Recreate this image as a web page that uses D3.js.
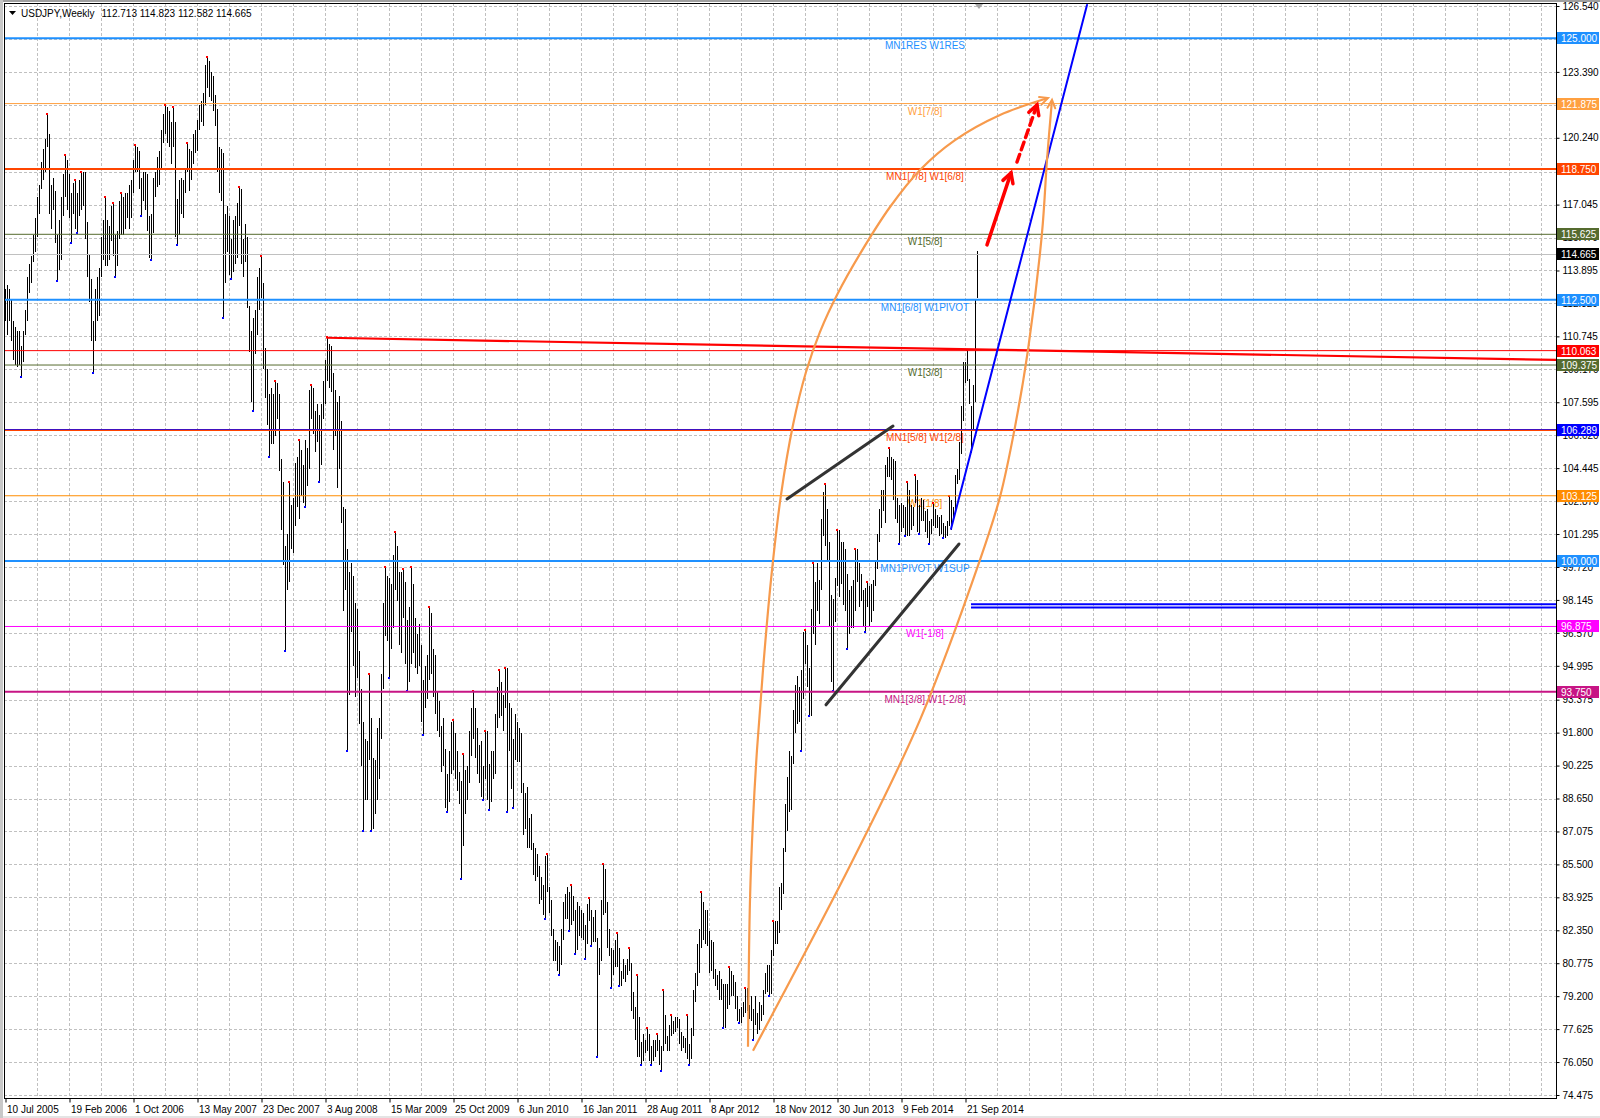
<!DOCTYPE html>
<html>
<head>
<meta charset="utf-8">
<script src="https://cdn.jsdelivr.net/npm/d3@7"></script>
<style>
  html, body { margin: 0; padding: 0; background: #fff; }
  svg { display: block; font-family: Tahoma, "Liberation Sans", Arial, sans-serif; }
</style>
</head>
<body>
<svg id="chart" width="1600" height="1118"></svg>
<script>
// ---- data ----
const symbolTitle = 'USDJPY,Weekly';
const lastOHLC = ['112.713', '114.823', '112.582', '114.665'];

// weekly [high, low], one bar per week starting 10 Jul 2005
const weeklyRanges = [
  // 2005
  [113.0,111.5],[113.2,110.8],[113.0,111.5],[112.5,110.5],[111.5,109.6],[111.2,109.4],[111.0,109.3],[111.0,109.4],[110.3,108.8],[111.0,109.5],
  [112.0,110.8],[113.6,111.5],[114.2,112.8],[114.6,113.3],[115.6,114.3],[116.4,114.8],[117.4,115.5],[118.0,116.6],[119.1,117.8],[119.7,118.2],
  [120.2,118.6],[121.4,119.8],[120.4,116.6],[118.0,115.9],[118.3,116.8],
  // 2006
  [117.7,115.2],[115.6,113.4],[116.3,113.9],[117.4,114.4],[118.5,116.5],[119.4,117.4],[119.2,116.8],[118.5,116.4],[117.6,115.2],[118.1,116.6],
  [118.2,115.9],[117.6,115.7],[118.2,116.5],[118.6,116.8],[118.6,117.0],[118.6,115.4],[116.2,113.6],[114.7,112.4],[113.5,110.5],[111.5,109.0],
  [113.0,110.5],[113.6,111.5],[114.0,111.7],[115.5,113.6],[116.3,114.4],[117.4,114.1],[116.3,114.1],[116.0,114.4],[117.0,115.3],[117.1,114.6],
  [115.6,113.6],[115.8,114.1],[117.2,115.4],[117.6,115.6],[117.4,115.6],[117.6,115.9],[117.6,116.4],[118.0,115.9],[118.2,116.4],[119.2,117.6],
  [119.9,118.6],[119.8,118.6],[119.6,117.8],[118.3,116.5],[118.6,117.2],[118.6,116.8],[118.5,115.8],[116.5,114.5],[116.6,114.4],[118.3,115.7],
  [118.6,117.4],[119.3,117.9],[119.6,118.0],
  // 2007
  [120.6,118.8],[121.4,120.0],[121.8,120.4],[121.7,120.0],[121.5,119.8],[121.0,119.0],[121.7,119.8],[121.0,115.5],[117.3,115.1],[118.2,115.6],
  [118.3,116.6],[118.2,116.4],[118.8,117.6],[120.0,118.6],[119.7,117.7],[119.6,118.2],[120.4,119.0],[120.6,119.5],[121.1,119.6],[121.8,120.6],
  [122.0,121.0],[122.4,120.8],[123.7,121.8],[124.1,122.6],[123.9,122.2],[123.4,122.0],[123.2,121.5],[122.3,120.8],[121.6,118.6],[119.8,117.6],
  [119.7,117.2],[119.5,111.6],[116.6,113.3],[117.0,114.8],[116.5,113.7],[115.4,113.5],[116.3,113.8],[116.5,114.2],[117.1,114.5],[117.9,116.0],
  [117.8,114.2],[115.4,113.6],[116.1,114.3],[115.5,112.1],[112.2,110.0],[111.0,107.6],[111.6,107.2],[112.0,109.9],[113.6,110.8],[114.0,112.0],
  [114.6,112.6],[113.3,109.2],
  // 2008
  [110.2,107.8],[109.2,106.5],[108.0,105.0],[108.3,105.6],[108.0,105.6],[108.6,106.0],[108.5,106.8],[108.0,104.3],[104.9,101.5],[103.8,99.8],
  [100.7,95.7],[101.3,98.6],[103.8,99.0],[102.7,100.6],[103.0,100.4],[104.7,101.7],[105.0,102.6],[105.8,102.0],[105.3,103.1],[104.6,102.8],
  [105.8,102.6],[105.4,103.6],[108.2,104.4],[108.4,106.8],[108.3,106.1],[107.2,105.2],[107.5,105.7],[107.0,103.8],[107.5,104.6],[108.6,106.8],
  [109.6,107.5],[110.7,108.6],[110.4,108.3],[110.3,108.1],[109.0,105.3],[108.2,106.0],[107.6,103.5],[107.9,104.4],[106.7,101.8],[102.6,97.6],
  [102.5,98.6],[100.6,90.9],[99.5,93.6],[99.9,96.6],[99.3,95.0],[98.0,93.5],[97.7,94.4],[95.7,92.2],[93.9,90.2],[92.3,87.1],
  [91.5,88.6],[91.4,88.6],
  // 2009
  [94.6,90.5],[92.5,87.1],[90.6,87.2],[90.5,87.9],[92.0,88.6],[92.5,89.6],[94.6,91.5],[98.0,93.9],[99.7,96.4],[99.3,96.2],
  [99.2,94.4],[98.9,95.8],[100.3,96.8],[101.4,98.6],[100.7,98.1],[99.5,96.0],[99.5,95.6],[99.6,97.3],[99.0,95.1],[97.2,93.8],
  [97.8,94.2],[99.7,95.1],[98.9,95.6],[97.3,94.9],[96.5,94.6],[97.0,95.0],[96.0,92.3],[94.3,91.7],[95.0,93.0],[95.5,93.4],
  [97.8,94.3],[97.5,94.6],[95.8,93.5],[95.5,92.7],[93.8,91.9],[93.3,91.6],[92.1,89.9],[92.5,90.2],[91.0,88.2],[89.8,88.0],
  [90.9,88.5],[92.3,89.8],[92.4,90.0],[91.8,89.6],[90.9,89.0],[89.9,88.4],[89.5,84.8],[90.8,86.4],[90.0,87.9],[90.2,88.6],
  [91.9,89.4],[93.0,90.7],
  // 2010
  [93.8,91.5],[93.0,90.6],[92.0,89.8],[91.2,89.4],[91.4,88.7],[90.2,88.6],[91.9,89.6],[91.9,88.6],[90.3,88.1],[90.9,88.5],
  [90.9,89.6],[92.7,89.8],[94.0,92.0],[94.8,92.5],[94.2,92.6],[93.6,91.9],[94.9,93.0],[94.9,88.0],[93.2,90.9],[93.0,89.1],
  [91.5,88.2],[92.7,90.5],[92.3,90.4],[92.0,90.4],[91.8,88.9],[89.4,86.9],[88.9,87.2],[89.2,86.3],[87.7,86.3],[87.9,86.2],
  [86.5,85.0],[86.3,84.7],[86.0,84.9],[85.4,83.6],[84.9,83.8],[84.5,83.1],[85.9,82.9],[86.0,84.2],[84.4,83.2],[83.8,82.1],
  [82.4,80.9],[81.9,80.9],[81.8,80.4],[81.6,80.2],[82.4,80.7],[83.7,81.9],[84.1,82.9],[84.4,82.9],[84.2,82.3],[84.5,82.6],
  [84.0,82.8],[83.3,81.2],
  // 2011
  [83.7,81.4],[83.5,82.1],[83.3,82.0],[83.2,81.9],[82.6,81.0],[83.6,81.7],[83.9,82.8],[83.3,81.6],[83.0,81.8],[83.3,81.8],
  [82.0,76.3],[81.5,80.2],[83.8,80.9],[85.5,83.1],[85.3,83.2],[83.7,81.5],[82.4,81.1],[81.5,79.6],[81.4,80.2],[81.9,80.6],
  [82.2,80.6],[81.5,79.7],[80.4,79.7],[81.0,80.0],[80.7,79.9],[81.0,80.2],[81.5,80.4],[80.8,78.5],[79.4,78.1],[78.7,77.1],
  [80.2,76.3],[78.2,76.3],[77.0,75.9],[77.4,76.1],[77.1,76.5],[77.7,76.6],[77.4,76.1],[76.8,75.9],[77.1,76.1],[77.1,76.3],
  [77.4,76.6],[77.1,75.9],[76.8,75.6],[79.5,76.6],[78.3,76.9],[77.3,76.6],[77.8,76.6],[78.3,77.3],[78.0,77.4],[78.2,77.5],
  [78.2,77.7],[78.1,76.9],
  // 2012
  [77.5,76.6],[77.3,76.7],[77.2,76.5],[78.3,76.2],[76.9,75.9],[77.7,76.2],[79.5,77.3],[80.3,78.9],[81.7,79.7],[82.4,80.3],
  [84.2,81.5],[83.7,81.9],[83.3,81.7],[83.3,81.6],[82.3,80.3],[81.9,80.4],[81.8,80.0],[80.5,79.7],[80.2,79.5],[80.4,79.0],
  [80.0,79.0],[79.8,77.7],[79.8,77.7],[79.8,78.6],[80.6,78.8],[80.4,79.2],[80.2,79.2],[79.9,78.6],[79.2,78.0],[78.6,77.9],
  [78.7,77.9],[78.9,78.2],[79.6,78.4],[79.6,78.5],[78.8,78.1],[79.2,78.0],[78.6,77.1],[79.2,77.8],[78.4,77.4],[78.9,77.6],
  [78.8,78.0],[79.5,78.3],[80.3,79.3],[80.7,79.4],[80.7,79.2],[81.4,79.3],[82.8,81.1],[82.8,81.7],[82.8,81.7],[84.4,82.2],
  [84.6,83.3],[86.3,84.1],[88.4,86.1],
  // 2013
  [89.7,87.1],[90.9,88.0],[90.7,88.1],[92.9,90.3],[94.1,91.8],[94.5,92.2],[94.0,92.3],[94.8,90.9],[96.6,93.4],[96.7,95.1],
  [96.0,94.0],[94.9,92.6],[97.7,92.6],[99.9,96.5],[99.0,96.0],[99.9,97.6],[99.1,97.0],[102.0,98.6],[103.3,101.2],[103.7,100.7],
  [102.5,100.0],[100.9,96.9],[98.4,94.2],[98.2,93.8],[99.2,97.1],[101.5,98.8],[101.5,98.3],[100.9,98.9],[100.9,97.9],[100.6,97.6],
  [99.4,95.8],[98.6,96.5],[98.8,96.8],[99.1,96.8],[100.6,97.6],[100.6,99.0],[99.9,97.8],[99.4,98.1],[98.6,96.9],[98.7,96.6],
  [99.0,97.8],[98.8,96.9],[98.9,97.1],[99.1,97.6],[100.0,98.8],[101.3,99.6],[102.5,100.9],[103.4,101.6],[103.4,102.4],[104.6,101.8],
  [105.0,104.0],[105.4,104.0],
  // 2014
  [105.0,103.9],[104.9,102.9],[104.8,102.0],[103.0,101.8],[102.7,100.8],[102.8,101.4],[102.7,101.6],[102.6,101.2],[103.8,101.2],[103.4,101.2],
  [102.7,101.5],[102.6,101.7],[104.1,102.8],[103.9,101.4],[102.7,101.3],[103.0,101.9],[102.9,101.9],[102.4,101.4],[102.5,101.1],[101.9,100.8],
  [102.0,101.3],[102.8,101.7],[102.5,101.6],[102.2,101.6],[102.1,101.2],[102.2,101.3],[101.8,101.1],[101.7,101.1],[101.9,101.2],[103.1,101.7],
  [102.9,101.5],[102.6,101.9],[104.1,102.3],[104.4,103.7],[105.7,103.9],[107.4,105.1],[109.5,106.7],[109.5,108.5],[110.1,108.6],[108.7,107.5],
  [107.4,105.2],[108.4,106.3],[112.5,107.6],[114.823,112.582]
];

// one date label every 32 weekly bars
const dateLabels = ['10 Jul 2005', '19 Feb 2006', '1 Oct 2006', '13 May 2007', '23 Dec 2007', '3 Aug 2008',
  '15 Mar 2009', '25 Oct 2009', '6 Jun 2010', '16 Jan 2011', '28 Aug 2011', '8 Apr 2012',
  '18 Nov 2012', '30 Jun 2013', '9 Feb 2014', '21 Sep 2014'];

const priceTickLabels = ['126.540', '124.965', '123.390', '121.815', '120.240', '118.620', '117.045', '115.470',
  '113.895', '112.320', '110.745', '109.170', '107.595', '106.020', '104.445', '102.870', '101.295', '99.720',
  '98.145', '96.570', '94.995', '93.375', '91.800', '90.225', '88.650', '87.075', '85.500', '83.925', '82.350',
  '80.775', '79.200', '77.625', '76.050', '74.475'];

// horizontal levels (Murrey / pivot) and their captions
const levelPrices = [125.000, 121.875, 118.750, 115.625, 112.500, 110.063, 109.375, 106.289, 106.250, 103.125, 100.000, 96.875, 93.750];
const levelNames = ['MN1RES W1RES', 'W1[7/8]', 'MN1[7/8] W1[6/8]', 'W1[5/8]', 'MN1[6/8] W1PIVOT', '', 'W1[3/8]', '',
  'MN1[5/8] W1[2/8]', 'W1[1/8]', 'MN1PIVOT W1SUP', 'W1[-1/8]', 'MN1[3/8] W1[-2/8]'];
const levelTagged = [true, true, true, true, true, true, true, true, false, true, true, true, true];

// hand drawn objects, as [bar index, price]
const channelUpper = [[391, 102.97], [444, 106.46]];
const channelLower = [[410.5, 93.13], [477, 100.82]];
const trendBlue = [[473, 101.54], [541, 126.59]];
const resistanceRed = [[161, 110.68], [775.5, 109.62]];
const supportPair = [97.94, 97.78];
const supportStart = 483;
const arcUpper = [[371.5, 76.78], [372.5, 83.81], [374, 87.63], [376, 90.98], [379, 94.80], [383, 99.10],
  [388, 103.17], [394, 106.51], [400.5, 109.04], [407.5, 110.96], [416.5, 112.82], [427.5, 114.69],
  [442.5, 116.93], [457.5, 118.70], [475, 120.13], [497.5, 121.33], [521.5, 122.14]];
const arcLower = [[374, 76.59], [424, 85.72], [457.5, 92.41], [487.5, 100.06], [497.5, 103.07], [505, 106.42],
  [511.5, 110.10], [518.5, 115.69], [521, 119.18], [523.5, 122.05]];
const arrowSolid = [[491, 115.12], [503, 118.56]];
const arrowDashed = [[506, 119.08], [516, 121.81]];
const chartShiftBar = 487;

// ---- layout ----
const W = 1600, H = 1118;
const plot = { left: 4, top: 3, right: 1556, bottom: 1098 };

const svg = d3.select('#chart');

const x = d3.scaleLinear().domain([0, 775.5]).range([5, 1556]);
const y = d3.scaleLinear().domain([74.475, 126.54]).range([1095, 6]);
const px = v => Math.round(v) + 0.5;

// frame
svg.append('rect').attr('x', 0).attr('y', 0).attr('width', W).attr('height', H).attr('fill', '#fff');
svg.append('rect').attr('x', 0).attr('y', 1116).attr('width', W).attr('height', 2).attr('fill', '#e4e4e4');
svg.append('rect').attr('x', 0).attr('y', 0).attr('width', W).attr('height', 2).attr('fill', '#a0a0a0');
svg.append('rect').attr('x', 0).attr('y', 0).attr('width', 3).attr('height', H).attr('fill', '#c8c8c8');

svg.append('defs').append('clipPath').attr('id', 'plotClip')
  .append('rect')
  .attr('x', plot.left).attr('y', plot.top)
  .attr('width', plot.right - plot.left).attr('height', plot.bottom - plot.top);

const g = svg.append('g').attr('clip-path', 'url(#plotClip)');

// grid
const tickValues = priceTickLabels.map(Number);
g.append('g').selectAll('line').data(tickValues).join('line')
  .attr('x1', plot.left).attr('x2', plot.right)
  .attr('y1', d => px(y(d))).attr('y2', d => px(y(d)))
  .attr('stroke', '#c0c0c0').attr('stroke-dasharray', '3,2');

const gridBars = d3.range(16, 776, 16);
g.append('g').selectAll('line').data(gridBars).join('line')
  .attr('x1', d => px(x(d))).attr('x2', d => px(x(d)))
  .attr('y1', plot.top).attr('y2', plot.bottom)
  .attr('stroke', '#c0c0c0').attr('stroke-dasharray', '3,2');

// level styles
const levelColors = ['#1E90FF', '#FFA040', '#FF4500', '#556B2F', '#1E90FF', '#FF0000', '#556B2F', '#0000FF',
  '#FF4500', '#FF8C00', '#1E90FF', '#FF00FF', '#C71585'];
const levelWidths = [2, 1, 2, 1, 2, 1, 1, 1.3, 1.3, 1, 2, 1, 2];
const levels = levelPrices.map((p, k) => ({ p, name: levelNames[k], color: levelColors[k], w: levelWidths[k], tag: levelTagged[k] }));

// captions sit under the bars
g.append('g').selectAll('text').data(levels.filter(d => d.name)).join('text')
  .attr('x', 925).attr('y', d => y(d.p) + 11)
  .attr('text-anchor', 'middle')
  .attr('font-size', 10)
  .attr('fill', d => d.color)
  .text(d => d.name);

// weekly bars
const bars = weeklyRanges.map((r, i) => ({ i, high: r[0], low: r[1] }));
g.append('g').selectAll('line').data(bars).join('line')
  .attr('x1', d => px(x(d.i))).attr('x2', d => px(x(d.i)))
  .attr('y1', d => Math.round(y(d.high))).attr('y2', d => Math.max(Math.round(y(d.low)), Math.round(y(d.high)) + 1))
  .attr('stroke', '#000').attr('stroke-width', 1);

// fractal markers
const n = bars.length;
const fractUp = d3.range(2, n - 2).filter(i => bars[i].high > bars[i - 1].high && bars[i].high > bars[i - 2].high &&
  bars[i].high >= bars[i + 1].high && bars[i].high >= bars[i + 2].high);
const fractDown = d3.range(2, n - 2).filter(i => bars[i].low < bars[i - 1].low && bars[i].low < bars[i - 2].low &&
  bars[i].low <= bars[i + 1].low && bars[i].low <= bars[i + 2].low);
g.append('g').selectAll('rect').data(fractUp).join('rect')
  .attr('x', i => Math.round(x(i)) - 1).attr('y', i => Math.round(y(bars[i].high)) - 1)
  .attr('width', 2).attr('height', 2).attr('fill', '#FF0000');
g.append('g').selectAll('rect').data(fractDown).join('rect')
  .attr('x', i => Math.round(x(i)) - 1).attr('y', i => Math.round(y(bars[i].low)) - 1)
  .attr('width', 2).attr('height', 2).attr('fill', '#0000FF');

// current price line
const lastClose = +lastOHLC[3];
g.append('line')
  .attr('x1', plot.left).attr('x2', plot.right)
  .attr('y1', px(y(lastClose))).attr('y2', px(y(lastClose)))
  .attr('stroke', '#c0c0c0');

// level lines
g.append('g').selectAll('line').data(levels).join('line')
  .attr('x1', plot.left).attr('x2', plot.right)
  .attr('y1', d => y(d.p)).attr('y2', d => y(d.p))
  .attr('stroke', d => d.color).attr('stroke-width', d => d.w);

// straight objects
const seg = (pts, color, w, dash) => g.append('line')
  .attr('x1', x(pts[0][0])).attr('y1', y(pts[0][1]))
  .attr('x2', x(pts[1][0])).attr('y2', y(pts[1][1]))
  .attr('stroke', color).attr('stroke-width', w)
  .attr('stroke-dasharray', dash || null)
  .attr('stroke-linecap', 'round');

seg(resistanceRed, '#FF0000', 2.2);

// double support lines
g.append('g').selectAll('line').data(supportPair).join('line')
  .attr('x1', x(supportStart)).attr('x2', plot.right)
  .attr('y1', d => y(d)).attr('y2', d => y(d))
  .attr('stroke', '#0000FF').attr('stroke-width', 2);

// channel
seg(channelUpper, '#333333', 3);
seg(channelLower, '#333333', 3);

// blue trend
seg(trendBlue, '#0000FF', 2);

// orange arcs with arrow heads
const curve = d3.line().x(d => x(d[0])).y(d => y(d[1])).curve(d3.curveCatmullRom.alpha(0.5));
function head(pts, color, len, w, spread) {
  const a = pts[pts.length - 2], b = pts[pts.length - 1];
  const x1 = x(a[0]), y1 = y(a[1]), x2 = x(b[0]), y2 = y(b[1]);
  const ang = Math.atan2(y2 - y1, x2 - x1);
  const wing = s => [x2 - len * Math.cos(ang + s), y2 - len * Math.sin(ang + s)];
  const p1 = wing(spread), p2 = wing(-spread);
  g.append('path')
    .attr('d', `M${p1[0]},${p1[1]}L${x2},${y2}L${p2[0]},${p2[1]}`)
    .attr('fill', 'none').attr('stroke', color).attr('stroke-width', w)
    .attr('stroke-linejoin', 'miter').attr('stroke-linecap', 'round');
}
[arcUpper, arcLower].forEach(arc => {
  g.append('path').attr('d', curve(arc))
    .attr('fill', 'none').attr('stroke', '#F79A4C').attr('stroke-width', 2.2);
  head(arc, '#F79A4C', 9, 2, 0.45);
});

// red arrows
seg(arrowSolid, '#FF0000', 3.5);
head(arrowSolid, '#FF0000', 11, 3.5, 0.5);
seg(arrowDashed, '#FF0000', 3.5, '8,5');
head(arrowDashed, '#FF0000', 11, 3.5, 0.5);

// chart shift marker
const sx = x(chartShiftBar);
svg.append('path').attr('d', `M${sx - 4},4L${sx + 4},4L${sx},9Z`).attr('fill', '#a8a8a8');

// plot border
svg.append('rect')
  .attr('x', plot.left + 0.5).attr('y', plot.top + 0.5)
  .attr('width', plot.right - plot.left).attr('height', plot.bottom - plot.top)
  .attr('fill', 'none').attr('stroke', '#000');

// price axis
const yAxis = d3.axisRight(y).tickValues(tickValues).tickSize(3).tickPadding(3)
  .tickFormat((d, k) => priceTickLabels[k]);
const ya = svg.append('g').attr('transform', `translate(${plot.right + 0.5},0)`).call(yAxis);
ya.select('.domain').remove();
ya.selectAll('text').attr('font-size', 10).attr('font-family', 'Tahoma, "Liberation Sans", Arial, sans-serif').attr('fill', '#000');
ya.selectAll('line').attr('stroke', '#000');

// time axis
const dateBars = dateLabels.map((_, k) => k * 32);
const xAxis = d3.axisBottom(x).tickValues(dateBars).tickSize(4).tickPadding(3)
  .tickFormat((d, k) => dateLabels[k]);
const xa = svg.append('g').attr('transform', `translate(0.5,${plot.bottom + 0.5})`).call(xAxis);
xa.select('.domain').remove();
xa.selectAll('text').attr('font-size', 10).attr('font-family', 'Tahoma, "Liberation Sans", Arial, sans-serif')
  .attr('fill', '#000').attr('text-anchor', 'start').attr('dx', 1);
xa.selectAll('line').attr('stroke', '#000');

// price tags on the axis
const tags = levels.filter(d => d.tag).map(d => ({ p: d.p, color: d.color, text: d.p.toFixed(3) }));
tags.push({ p: lastClose, color: '#000000', text: lastOHLC[3] });
const tg = svg.append('g').selectAll('g').data(tags).join('g')
  .attr('transform', d => `translate(1557,${Math.round(y(d.p)) - 6})`);
tg.append('rect').attr('width', 42).attr('height', 12).attr('fill', d => d.color);
tg.append('text').attr('x', 4).attr('y', 10).attr('font-size', 10).attr('fill', '#fff').text(d => d.text);

// title
svg.append('path').attr('d', 'M9,11L16,11L12.5,15Z').attr('fill', '#000');
const title = svg.append('text').attr('x', 21).attr('y', 17).attr('font-size', 10).attr('fill', '#000');
title.append('tspan').text(symbolTitle);
title.append('tspan').attr('dx', 7).text(lastOHLC.join(' '));
</script>
</body>
</html>
